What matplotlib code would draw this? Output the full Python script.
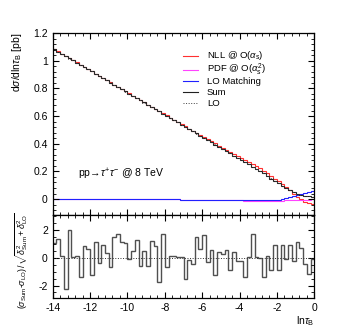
import numpy as np
import matplotlib
matplotlib.use('Agg')
import matplotlib.pyplot as plt
from matplotlib.lines import Line2D
from matplotlib.ticker import MultipleLocator, FuncFormatter

plt.rcParams['font.family'] = ['Liberation Sans', 'DejaVu Sans']
plt.rcParams['mathtext.fontset'] = 'custom'
plt.rcParams['mathtext.rm'] = 'Liberation Sans'
plt.rcParams['mathtext.it'] = 'Liberation Sans:italic'
plt.rcParams['mathtext.sf'] = 'Liberation Sans'

# 70 bins of 0.2 in ln(tau_B), from -14 to 0
edges = np.linspace(-14, 0, 71)

sum_vals = [1.082, 1.066, 1.050, 1.034, 1.018, 1.002, 0.986, 0.970, 0.954, 0.938,
            0.922, 0.906, 0.890, 0.874, 0.858, 0.842, 0.826, 0.810, 0.794, 0.778,
            0.762, 0.746, 0.730, 0.714, 0.698, 0.682, 0.666, 0.650, 0.634, 0.618,
            0.602, 0.586, 0.570, 0.554, 0.538, 0.522, 0.506, 0.490, 0.474, 0.458,
            0.442, 0.426, 0.410, 0.394, 0.378, 0.362, 0.346, 0.330, 0.314, 0.298,
            0.282, 0.266, 0.250, 0.234, 0.218, 0.202, 0.186, 0.165, 0.148, 0.131,
            0.114, 0.097, 0.081, 0.066, 0.052, 0.040, 0.031, 0.024, 0.019, 0.016]

lo_vals = [1.080, 1.064, 1.050, 1.037, 1.015, 1.002, 0.986, 0.972, 0.953, 0.937,
           0.924, 0.905, 0.891, 0.873, 0.857, 0.843, 0.824, 0.807, 0.792, 0.776,
           0.762, 0.745, 0.728, 0.715, 0.697, 0.683, 0.664, 0.649, 0.636, 0.616,
           0.603, 0.586, 0.570, 0.554, 0.538, 0.524, 0.506, 0.491, 0.472, 0.457,
           0.440, 0.427, 0.409, 0.396, 0.377, 0.361, 0.345, 0.331, 0.313, 0.298,
           0.282, 0.268, 0.250, 0.232, 0.218, 0.202, 0.188, 0.165, 0.149, 0.130,
           0.115, 0.096, 0.081, 0.065, 0.052, 0.039, 0.030, 0.024, 0.020, 0.016]

nll_vals = [1.083, 1.067, 1.051, 1.035, 1.019, 1.003, 0.987, 0.971, 0.955, 0.939,
            0.923, 0.907, 0.891, 0.875, 0.859, 0.843, 0.827, 0.811, 0.795, 0.779,
            0.763, 0.747, 0.731, 0.715, 0.699, 0.683, 0.667, 0.651, 0.635, 0.619,
            0.604, 0.588, 0.572, 0.557, 0.541, 0.525, 0.510, 0.494, 0.479, 0.463,
            0.448, 0.432, 0.417, 0.402, 0.387, 0.372, 0.357, 0.342, 0.327, 0.312,
            0.297, 0.282, 0.267, 0.252, 0.237, 0.222, 0.206, 0.185, 0.167, 0.148,
            0.129, 0.110, 0.086, 0.063, 0.040, 0.018, -0.001, -0.018, -0.031, -0.038]

pdf_vals = [0.000, 0.000, 0.000, 0.000, 0.000, 0.000, 0.000, 0.000, 0.000, 0.000,
            0.000, 0.000, 0.000, 0.000, 0.000, 0.000, 0.000, 0.000, 0.000, 0.000,
            -0.001, -0.001, -0.001, -0.001, -0.001, -0.001, -0.001, -0.001, -0.001, -0.002,
            -0.002, -0.002, -0.002, -0.002, -0.003, -0.003, -0.003, -0.004, -0.004, -0.004,
            -0.005, -0.005, -0.006, -0.006, -0.007, -0.007, -0.008, -0.008, -0.009, -0.010,
            -0.010, -0.011, -0.011, -0.012, -0.012, -0.012, -0.012, -0.012, -0.012, -0.012,
            -0.012, -0.011, -0.010, -0.009, -0.008, -0.006, -0.005, -0.004, -0.003, -0.002]

lomatch_vals = [-0.001, -0.001, -0.001, -0.001, -0.001, -0.001, -0.001, -0.001, -0.001, -0.001,
                -0.001, -0.001, -0.001, -0.001, -0.001, -0.001, -0.001, -0.001, -0.001, -0.001,
                -0.001, -0.001, -0.001, -0.001, -0.001, -0.001, -0.001, -0.002, -0.002, -0.002,
                -0.002, -0.002, -0.002, -0.002, -0.003, -0.003, -0.003, -0.003, -0.004, -0.004,
                -0.004, -0.005, -0.005, -0.005, -0.006, -0.006, -0.007, -0.007, -0.008, -0.008,
                -0.009, -0.009, -0.010, -0.010, -0.010, -0.010, -0.010, -0.009, -0.008, -0.006,
                -0.004, -0.001, 0.005, 0.012, 0.020, 0.028, 0.037, 0.046, 0.053, 0.056]

ratio_vals = [1.05, 1.36, 0.10, -2.25, 2.00, 0.05, 0.10, -1.40, 0.85, 0.60,
              -1.27, 1.12, -0.40, 0.95, 0.36, -0.70, 1.48, 1.72, 1.12, 1.05,
              -0.07, 0.52, 1.30, -0.62, 0.50, -0.62, 1.20, 0.85, -1.75, 1.73,
              -0.70, 0.15, 0.15, 0.07, 0.05, -1.56, -0.15, -0.45, 1.50, 0.60,
              1.65, -0.30, 0.58, -1.25, 0.45, 0.30, 0.55, -0.90, 0.40, -0.20,
              -0.20, -1.40, 0.05, 1.70, 0.05, 0.00, -1.40, 0.15, -0.90, 0.90,
              -0.90, 0.90, -0.10, 0.90, -0.20, 1.15, 0.70, -0.45, -1.15, -0.10]

series_colors = ['#ff3030', '#ff44ff', '#2020ff', '#202020', '#404040']
legend_labels = [r'NLL @ O($\alpha_{\mathrm{s}}$)', r'PDF @ O($\alpha_{\mathrm{s}}^2$)',
                 'LO Matching', 'Sum', 'LO']

fig = plt.figure(figsize=(3.49, 3.32), dpi=100)
ax = fig.add_axes([0.151, 0.3524, 0.7496, 0.5482])
axr = fig.add_axes([0.151, 0.1024, 0.7496, 0.25])

ax.stairs(nll_vals, edges, baseline=None, color=series_colors[0], lw=0.8)
ax.stairs(pdf_vals, edges, baseline=None, color=series_colors[1], lw=0.8)
ax.stairs(lomatch_vals, edges, baseline=None, color=series_colors[2], lw=0.8)
ax.stairs(sum_vals, edges, baseline=None, color=series_colors[3], lw=0.8)
ax.stairs(lo_vals, edges, baseline=None, color=series_colors[4], lw=0.7, ls=':')

ax.set_xlim(-14, 0)
ax.set_ylim(-0.115, 1.2)
ax.xaxis.set_major_locator(MultipleLocator(2))
ax.xaxis.set_minor_locator(MultipleLocator(0.4))
ax.yaxis.set_major_locator(MultipleLocator(0.2))
ax.yaxis.set_minor_locator(MultipleLocator(0.04))
ax.tick_params(which='both', direction='in', top=True, right=True, labelbottom=False, labelsize=7.5)
ax.tick_params(which='major', length=4)
ax.tick_params(which='minor', length=2)
ax.yaxis.set_major_formatter(FuncFormatter(lambda v, p: '%g' % round(v, 2)))
ax.set_ylabel(r'd$\sigma$/dln$\tau_{\mathrm{B}}$ [pb]', fontsize=7.5, ha='right', y=1.0)
ax.yaxis.set_label_coords(-0.11, 1.0)

# legend drawn by hand to match the tight ROOT row spacing
row_y = [0.876, 0.799, 0.735, 0.674, 0.614]
for i in range(5):
    ax.add_line(Line2D([0.498, 0.555], [row_y[i], row_y[i]], transform=ax.transAxes,
                       color=series_colors[i], lw=0.8 if i < 4 else 0.7, ls='-' if i < 4 else ':'))
    ax.text(0.59, row_y[i], legend_labels[i], transform=ax.transAxes, fontsize=6.8,
            ha='left', va='center')

ax.text(-12.65, 0.18, r'pp$\!\rightarrow\!\tau^{+}\tau^{-}$ @ 8 TeV', fontsize=7.5, ha='left', va='center')

for s in ax.spines.values():
    s.set_linewidth(0.9)

axr.stairs(ratio_vals, edges, baseline=None, color='#505050', lw=1.0)
axr.axhline(0, color='#303030', lw=0.7, ls=':')
axr.set_xlim(-14, 0)
axr.set_ylim(-2.9, 3.08)
axr.xaxis.set_major_locator(MultipleLocator(2))
axr.xaxis.set_minor_locator(MultipleLocator(0.4))
axr.yaxis.set_major_locator(MultipleLocator(2))
axr.yaxis.set_minor_locator(MultipleLocator(0.5))
axr.tick_params(which='both', direction='in', top=True, right=True, labelsize=7.5)
axr.tick_params(which='major', length=4)
axr.tick_params(which='minor', length=2)
axr.xaxis.set_major_formatter(FuncFormatter(lambda v, p: '%g' % v))
axr.yaxis.set_major_formatter(FuncFormatter(lambda v, p: '%g' % v))
for s in axr.spines.values():
    s.set_linewidth(0.9)
axr.set_xlabel(r'ln$\tau_{\mathrm{B}}$', fontsize=7.5, ha='right', x=1.0)
axr.xaxis.set_label_coords(1.0, -0.2)
axr.set_ylabel(r'$(\sigma_{\mathrm{Sum}}$-$\sigma_{\mathrm{LO}})\,/\sqrt{\delta^2_{\mathrm{Sum}}+\delta^2_{\mathrm{LO}}}$',
               fontsize=6.3)
axr.yaxis.set_label_coords(-0.085, 0.45)

fig.savefig('out.png', dpi=100)
